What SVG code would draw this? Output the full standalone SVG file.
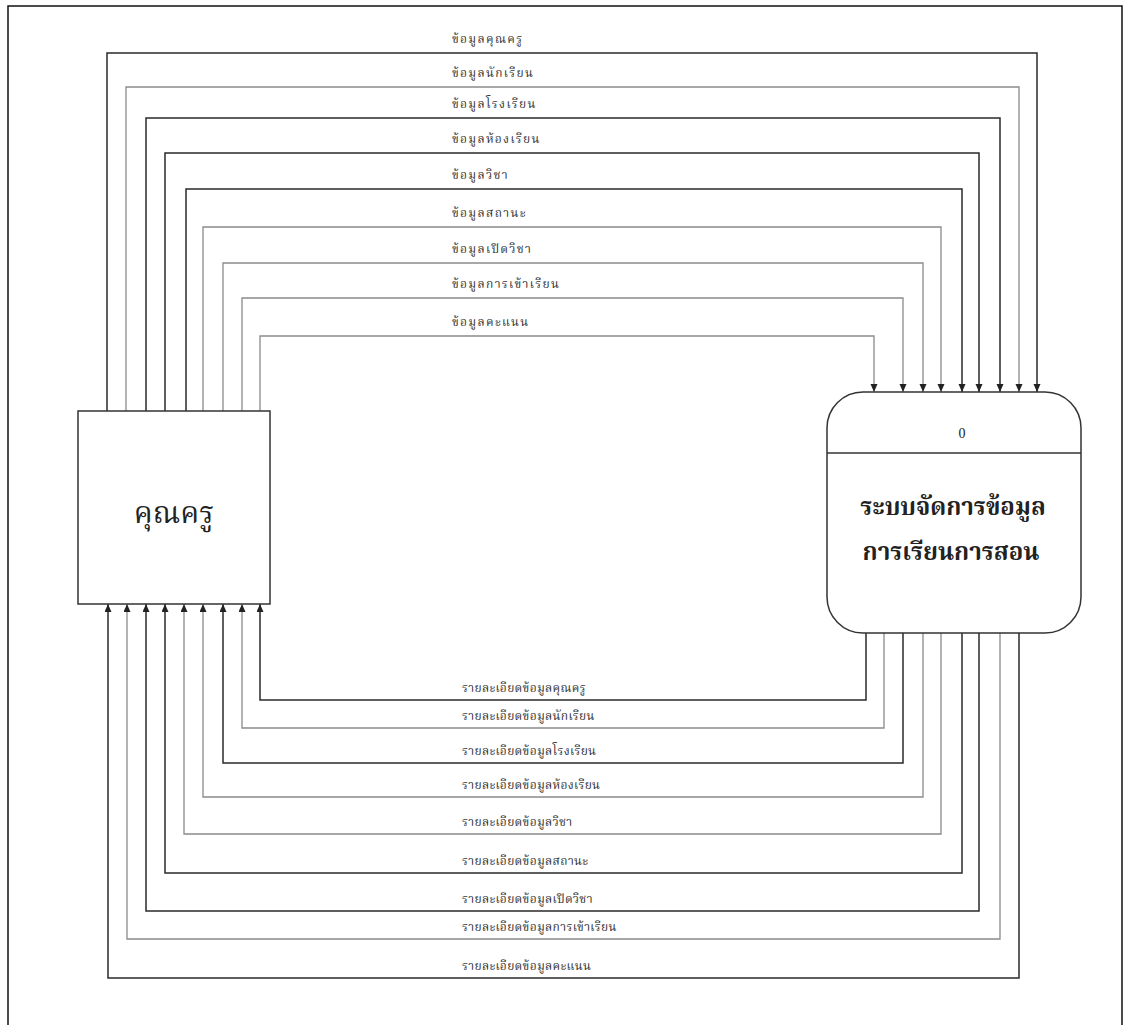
<svg xmlns="http://www.w3.org/2000/svg" width="1131" height="1025" viewBox="0 0 1131 1025">
<style>
.frame{fill:none;stroke:#111;stroke-width:1.5}
.box{fill:#fff;stroke:#333;stroke-width:1.5}
.d{fill:none;stroke:#2a2a2a;stroke-width:1.5}
.g{fill:none;stroke:#8a8a8a;stroke-width:1.3}
.lbl{font-family:"Noto Serif Thai","Noto Sans Thai","Garuda","Loma","Norasi","DejaVu Serif","Liberation Serif",serif;font-size:12px;fill:#333}
.top{letter-spacing:1.3px}
.bot{letter-spacing:0.3px}
.big{font-family:"Noto Serif Thai","Noto Sans Thai","Garuda","Loma","Norasi","DejaVu Serif","Liberation Serif",serif;fill:#222}
.num{font-family:"Liberation Serif",serif;font-size:14px;fill:#222}
</style>
<defs>
<marker id="ah" markerUnits="userSpaceOnUse" markerWidth="8" markerHeight="8" refX="8" refY="3.5" orient="auto">
<path d="M0,0 L8,3.5 L0,7 z" fill="#222"/>
</marker>
</defs>
<path class="frame" d="M8,1025 V6 H1122 V1025"/>
<g id="connectors">
<path class="d" d="M107,411 V53 H1037 V392" marker-end="url(#ah)"/>
<path class="g" d="M126,411 V87 H1019 V392" marker-end="url(#ah)"/>
<path class="d" d="M146,411 V118 H1000 V392" marker-end="url(#ah)"/>
<path class="d" d="M165,411 V153 H979 V392" marker-end="url(#ah)"/>
<path class="d" d="M186,411 V189 H962 V392" marker-end="url(#ah)"/>
<path class="g" d="M203,411 V227 H941 V392" marker-end="url(#ah)"/>
<path class="g" d="M223,411 V263 H923 V392" marker-end="url(#ah)"/>
<path class="g" d="M242,411 V298 H903 V392" marker-end="url(#ah)"/>
<path class="g" d="M260,411 V336 H874 V392" marker-end="url(#ah)"/>
<path class="d" d="M866,633 V700 H260 V604" marker-end="url(#ah)"/>
<path class="g" d="M884,633 V728 H242 V604" marker-end="url(#ah)"/>
<path class="d" d="M903,633 V763 H223 V604" marker-end="url(#ah)"/>
<path class="g" d="M923,633 V797 H203 V604" marker-end="url(#ah)"/>
<path class="g" d="M941,633 V834 H184 V604" marker-end="url(#ah)"/>
<path class="d" d="M962,633 V873 H165 V604" marker-end="url(#ah)"/>
<path class="d" d="M979,633 V911 H146 V604" marker-end="url(#ah)"/>
<path class="g" d="M1000,633 V939 H127 V604" marker-end="url(#ah)"/>
<path class="d" d="M1019,633 V978 H108 V604" marker-end="url(#ah)"/>
<g class="lbl top">
<text x="452" y="43">ข้อมูลคุณครู</text>
<text x="452" y="77">ข้อมูลนักเรียน</text>
<text x="452" y="108">ข้อมูลโรงเรียน</text>
<text x="452" y="143">ข้อมูลห้องเรียน</text>
<text x="452" y="179">ข้อมูลวิชา</text>
<text x="452" y="217">ข้อมูลสถานะ</text>
<text x="452" y="253">ข้อมูลเปิดวิชา</text>
<text x="452" y="288">ข้อมูลการเข้าเรียน</text>
<text x="452" y="326">ข้อมูลคะแนน</text>
</g>
<g class="lbl bot">
<text x="462" y="692">รายละเอียดข้อมูลคุณครู</text>
<text x="462" y="720">รายละเอียดข้อมูลนักเรียน</text>
<text x="462" y="755">รายละเอียดข้อมูลโรงเรียน</text>
<text x="462" y="789">รายละเอียดข้อมูลห้องเรียน</text>
<text x="462" y="826">รายละเอียดข้อมูลวิชา</text>
<text x="462" y="865">รายละเอียดข้อมูลสถานะ</text>
<text x="462" y="903">รายละเอียดข้อมูลเปิดวิชา</text>
<text x="462" y="931">รายละเอียดข้อมูลการเข้าเรียน</text>
<text x="462" y="970">รายละเอียดข้อมูลคะแนน</text>
</g>
</g>
<g id="teacher">
<rect class="box" x="78" y="411" width="192" height="193"/>
<text class="big" x="174" y="523" font-size="30" text-anchor="middle">คุณครู</text>
</g>
<g id="process0">
<rect class="box" x="827" y="392" width="254" height="241" rx="36" ry="36"/>
<line x1="827" y1="453" x2="1081" y2="453" stroke="#333" stroke-width="1.5"/>
<text class="num" x="962" y="438" text-anchor="middle">0</text>
<text class="big" x="953" y="515" font-size="24" font-weight="bold" text-anchor="middle">ระบบจัดการข้อมูล</text>
<text class="big" x="951" y="560" font-size="24" font-weight="bold" text-anchor="middle">การเรียนการสอน</text>
</g>
</svg>
